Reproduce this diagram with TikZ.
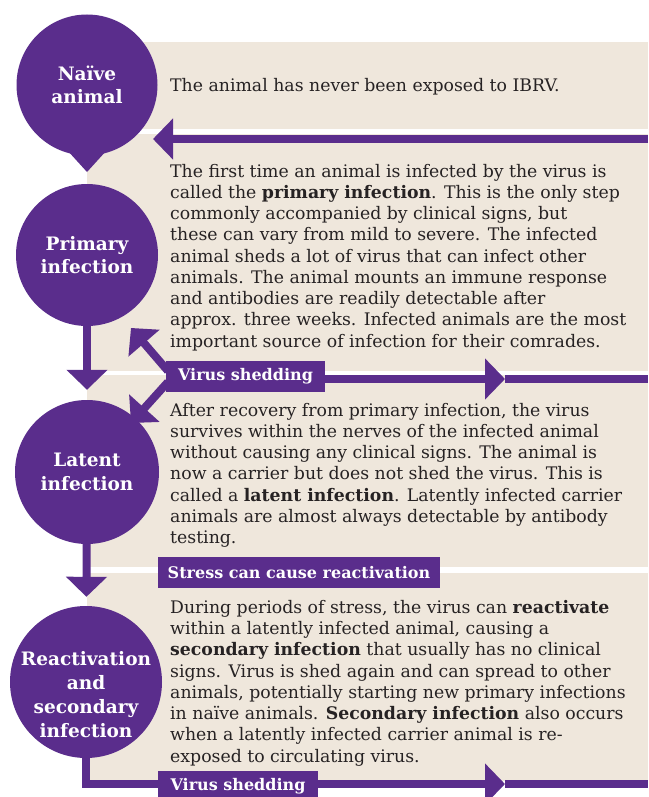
\documentclass[tikz,border=0pt]{standalone}
\usepackage{fontspec}
\setmainfont{DejaVu Serif}
\usetikzlibrary{arrows.meta}
\definecolor{morado}{HTML}{5A2D8C}
\definecolor{beige}{HTML}{EFE7DC}
\definecolor{tinta}{HTML}{262223}

\begin{document}
\begin{tikzpicture}[x=1pt,y=-1pt]

	\tikzstyle{panel} = [fill=beige]
	\tikzstyle{circulo} = [circle,fill=morado,text=white,inner sep=0pt,align=center,font=\bfseries\fontsize{18.5}{23.5}\selectfont]
	\tikzstyle{etiqueta} = [rectangle,fill=morado,text=white,inner sep=0pt,minimum height=31pt,font=\bfseries\fontsize{16}{20}\selectfont]
	\tikzstyle{cuerpo} = [anchor=base west,align=left,inner sep=0pt,text=tinta,font=\fontsize{17.3}{21.25}\selectfont]
	\tikzstyle{linea} = [morado,line width=8pt]
	\tikzstyle{flecha} = [linea,-{Triangle[width=40pt,length=20pt]}]

	\useasboundingbox (0,0) rectangle (648,797);

	% fondos
	\fill[panel] (143,42) rectangle (648,129);
	\fill[panel] (87,134) rectangle (648,371);
	\fill[panel] (87,375) rectangle (648,567);
	\fill[panel] (87,573) rectangle (648,781);

	% textos (anclados en la ultima linea)
	\node[cuerpo] (txt1) at (170,92) {The animal has never been exposed to IBRV.};
	\node[cuerpo] (txt2) at (170,347) {The first time an animal is infected by the virus is\\
		called the \textbf{primary infection}. This is the only step\\
		commonly accompanied by clinical signs, but\\
		these can vary from mild to severe. The infected\\
		animal sheds a lot of virus that can infect other\\
		animals. The animal mounts an immune response\\
		and antibodies are readily detectable after\\
		approx. three weeks. Infected animals are the most\\
		important source of infection for their comrades.};
	\node[cuerpo] (txt3) at (170,543.5) {After recovery from primary infection, the virus\\
		survives within the nerves of the infected animal\\
		without causing any clinical signs. The animal is\\
		now a carrier but does not shed the virus. This is\\
		called a \textbf{latent infection}. Latently infected carrier\\
		animals are almost always detectable by antibody\\
		testing.};
	\node[cuerpo] (txt4) at (170,762) {During periods of stress, the virus can \textbf{reactivate}\\
		within a latently infected animal, causing a\\
		\textbf{secondary infection} that usually has no clinical\\
		signs. Virus is shed again and can spread to other\\
		animals, potentially starting new primary infections\\
		in naïve animals. \textbf{Secondary infection} also occurs\\
		when a latently infected carrier animal is re-\\
		exposed to circulating virus.};

	% circulos
	\fill[morado] (67,150) -- (107,150) -- (87,172) -- cycle;
	\node[circulo,minimum size=141pt] (ingenuo) at (87,85) {Naïve\\animal};
	\node[circulo,minimum size=142pt] (primaria) at (87,255) {Primary\\infection};
	\node[circulo,minimum size=144pt] (latente) at (87,472) {Latent\\infection};
	\node[circulo,minimum size=152pt] (reactiva) at (86,682) {};
	\node[circulo,fill=none,font=\bfseries\fontsize{18.5}{24}\selectfont] (reactiva-txt) at (86,695) {Reactivation\\and\\secondary\\infection};

	% flechas
	\coordinate (r0) at (648,139);
	\coordinate (t0) at (153,139);
	\draw[flecha] (r0) -- (t0);

	\draw[flecha,shorten >=10pt] (primaria) -- (latente);
	\draw[flecha,shorten >=9pt] (latente) -- (reactiva);

	\node[etiqueta,minimum width=159pt] (vs1) at (245.5,376.5) {Virus shedding};
	\coordinate (d0) at (168,371);
	\coordinate (d1) at (131,328);
	\coordinate (d2) at (168,382);
	\coordinate (d3) at (131,423);
	\draw[flecha] (d0) -- (d1);
	\draw[flecha] (d2) -- (d3);
	\coordinate (h1) at (505,379);
	\coordinate (r1) at (648,379);
	\draw[flecha] (vs1.east |- h1) -- (h1);
	\draw[linea] (h1) -- (r1);

	\node[etiqueta,minimum width=282pt] (estres) at (299,572.5) {Stress can cause reactivation};

	\coordinate (h2) at (505,784);
	\coordinate (r2) at (648,784);
	\draw[flecha] (reactiva) |- (h2);
	\draw[linea] (h2) -- (r2);
	\node[etiqueta,minimum width=160pt] (vs2) at (238,786.5) {Virus shedding};

\end{tikzpicture}
\end{document}
